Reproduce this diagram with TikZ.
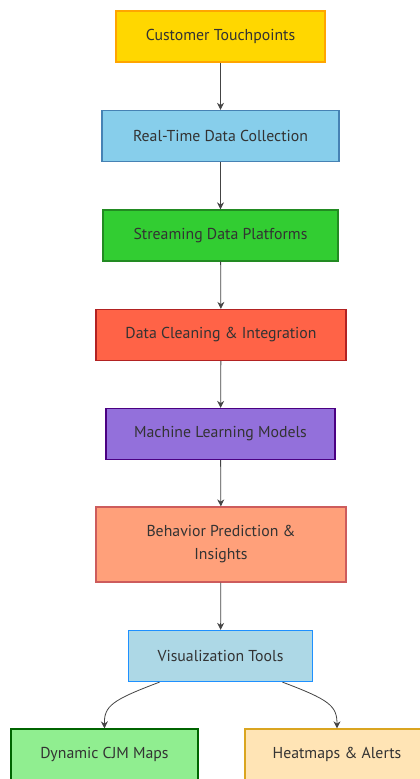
\documentclass[tikz,border=0pt]{standalone}
\usepackage{fontspec}
\setmainfont{PT Sans}
\usepackage{xcolor}
\usepackage{tikz}
\usetikzlibrary{positioning,calc,arrows.meta}

\definecolor{textgray}{HTML}{333333}
\definecolor{linegray}{HTML}{444444}
\definecolor{touchfill}{HTML}{FFD700}
\definecolor{touchline}{HTML}{FFA500}
\definecolor{collectfill}{HTML}{87CEEB}
\definecolor{collectline}{HTML}{4682B4}
\definecolor{streamfill}{HTML}{32CD32}
\definecolor{streamline}{HTML}{228B22}
\definecolor{cleanfill}{HTML}{FF6347}
\definecolor{cleanline}{HTML}{B22222}
\definecolor{mlfill}{HTML}{9370DB}
\definecolor{mlline}{HTML}{4B0082}
\definecolor{predictfill}{HTML}{FFA07A}
\definecolor{predictline}{HTML}{CD5C5C}
\definecolor{visualfill}{HTML}{ADD8E6}
\definecolor{visualline}{HTML}{1E90FF}
\definecolor{cjmfill}{HTML}{90EE90}
\definecolor{cjmline}{HTML}{006400}
\definecolor{heatfill}{HTML}{FFE4B5}
\definecolor{heatline}{HTML}{DAA520}

\tikzset{
    stagebox/.style={draw, line width=1.3pt, minimum height=51pt, text=textgray,
        font=\fontsize{15.8}{23}\selectfont, align=center, inner sep=2pt},
    flow/.style={draw=linegray, line width=0.8pt, -{Stealth[length=7pt,width=7pt]}}
}

\begin{document}
\begin{tikzpicture}[x=1pt,y=1pt]
    \useasboundingbox (0,0) rectangle (420,-779);
    \fill [white] (0,0) rectangle (420,-779);
    \clip (0,0) rectangle (420,-779);

    % Pipeline
    \node [stagebox, fill=touchfill, draw=touchline, minimum width=209pt] (touch) at (220.5,-36.5) {Customer Touchpoints};
    \node [stagebox, fill=collectfill, draw=collectline, minimum width=237pt] (collect) at (220.5,-136) {Real-Time Data Collection};
    \node [stagebox, fill=streamfill, draw=streamline, minimum width=235pt] (stream) at (220.5,-235.5) {Streaming Data Platforms};
    \node [stagebox, fill=cleanfill, draw=cleanline, minimum width=250pt] (clean) at (221,-335) {Data Cleaning \& Integration};
    \node [stagebox, fill=mlfill, draw=mlline, minimum width=229pt] (ml) at (220.5,-434) {Machine Learning Models};
    \node [stagebox, fill=predictfill, draw=predictline, minimum width=250pt, minimum height=75pt] (predict) at (221,-544.5) {Behavior Prediction \&\\Insights};
    \node [stagebox, fill=visualfill, draw=visualline, minimum width=184pt] (visual) at (220.5,-656) {Visualization Tools};

    % Outputs
    \node [stagebox, fill=cjmfill, draw=cjmline, minimum width=187pt] (cjm) at (104.5,-754.5) {Dynamic CJM Maps};
    \node [stagebox, fill=heatfill, draw=heatline, minimum width=184pt] (heat) at (337,-754.5) {Heatmaps \& Alerts};

    \draw [flow] (touch) -- (collect);
    \draw [flow] (collect) -- (stream);
    \draw [flow] (stream) -- (clean);
    \draw [flow] (clean) -- (ml);
    \draw [flow] (ml) -- (predict);
    \draw [flow] (predict) -- (visual);
    \draw [flow] ($(visual.south)+(-61,0)$) .. controls (112,-700) and (104,-706) .. (cjm.north);
    \draw [flow] ($(visual.south)+(62,0)$) .. controls (330,-700) and (337,-706) .. (heat.north);
\end{tikzpicture}
\end{document}
